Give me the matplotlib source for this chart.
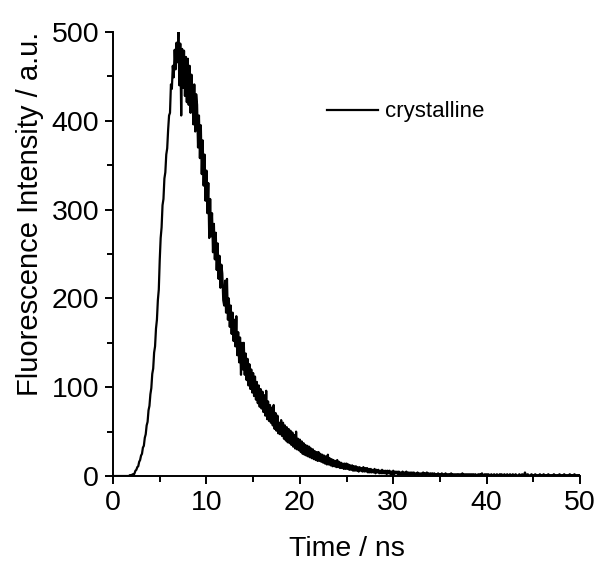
import numpy as np
import matplotlib
matplotlib.use('Agg')
import matplotlib.pyplot as plt

# time axis of the decay trace: 0 to 50 ns sampled every 0.1 ns
t_start, t_stop, t_step = 0.0, 50.0, 0.1

# intensity values, one row per nanosecond
intensity = [
    0, 0, 0, 0, 0, 0, 0, 0, 0, 0,
    0, 0, 0, 0, 0, 0, 0, 0, 1, 0,
    1, 2, 1, 3, 6, 7, 10, 11, 16, 18,
    23, 25, 32, 34, 43, 47, 57, 61, 74, 79,
    92, 99, 115, 121, 139, 146, 166, 176, 198, 210,
    243, 268, 280, 305, 312, 335, 342, 362, 369, 390,
    406, 409, 441, 436, 462, 449, 480, 458, 488, 466,
    500, 440, 487, 406, 481, 437, 479, 428, 472, 421,
    470, 418, 462, 409, 452, 431, 396, 441, 388, 430,
    418, 370, 406, 358, 395, 340, 378, 327, 362, 310,
    344, 296, 330, 268, 312, 270, 296, 252, 284, 244,
    274, 232, 262, 222, 248, 212, 238, 228, 198, 192,
    220, 184, 222, 176, 200, 168, 192, 160, 184, 152,
    176, 146, 180, 136, 162, 128, 156, 114, 150, 120,
    150, 114, 138, 108, 132, 102, 126, 98, 120, 94,
    116, 90, 112, 86, 106, 82, 102, 78, 98, 76,
    95, 72, 91, 68, 96, 64, 84, 62, 80, 60,
    77, 57, 80, 53, 71, 51, 68, 48, 60, 47,
    63, 45, 60, 42, 57, 40, 55, 38, 53, 37,
    51, 35, 49, 33, 46, 31, 50, 30, 42, 29,
    41, 27, 39, 25, 37, 24, 35, 23, 34, 22,
    33, 21, 31, 20, 30, 19, 28, 18, 27, 17,
    27, 17, 25, 16, 24, 15, 23, 14, 22, 13,
    24, 13, 20, 12, 19, 11, 18, 11, 17, 10,
    18, 10, 16, 9, 15, 9, 14, 8, 14, 8,
    14, 8, 13, 7, 12, 7, 12, 6, 11, 6,
    11, 6, 10, 5, 10, 6, 9, 5, 10, 5,
    9, 5, 9, 4, 8, 4, 8, 4, 7, 4,
    8, 3, 7, 4, 7, 3, 6, 3, 7, 3,
    6, 3, 6, 2, 6, 3, 6, 2, 5, 2,
    6, 2, 5, 3, 5, 2, 5, 2, 4, 2,
    5, 2, 4, 2, 5, 2, 4, 1, 4, 2,
    4, 2, 4, 1, 3, 2, 4, 1, 3, 2,
    3, 1, 4, 2, 3, 1, 4, 2, 3, 1,
    3, 2, 3, 1, 3, 1, 2, 1, 3, 2,
    2, 1, 3, 1, 2, 1, 3, 1, 2, 2,
    2, 1, 3, 1, 2, 1, 2, 1, 2, 2,
    2, 1, 2, 1, 3, 1, 2, 1, 2, 1,
    2, 1, 2, 1, 2, 1, 2, 0, 2, 1,
    1, 2, 1, 2, 1, 3, 1, 1, 2, 1,
    2, 1, 2, 1, 1, 2, 1, 1, 2, 1,
    1, 2, 1, 1, 2, 1, 2, 1, 1, 2,
    1, 1, 2, 1, 1, 2, 1, 1, 2, 1,
    1, 2, 1, 0, 1, 2, 1, 1, 2, 1,
    1, 4, 1, 1, 2, 1, 0, 1, 2, 1,
    1, 1, 2, 1, 0, 1, 1, 2, 1, 1,
    1, 2, 1, 1, 0, 1, 2, 1, 1, 0,
    1, 1, 2, 1, 0, 1, 1, 1, 2, 1,
    1, 0, 1, 2, 1, 1, 0, 1, 1, 2,
    1, 1, 0, 1, 2, 1, 1, 0, 1, 1,
    1,
]

series_label = 'crystalline'
x_label = 'Time / ns'
y_label = 'Fluorescence Intensity / a.u.'
x_ticks = [0, 10, 20, 30, 40, 50]
y_ticks = [0, 100, 200, 300, 400, 500]


def main():
    time_ns = np.linspace(t_start, t_stop, len(intensity))

    plt.rcParams['font.family'] = ['Liberation Sans', 'DejaVu Sans']
    fig = plt.figure(figsize=(5.98, 5.62), dpi=100)
    ax = fig.add_axes([0.189, 0.153, 0.781, 0.790])

    ax.plot(time_ns, intensity, color='black', linewidth=1.6, label=series_label)

    ax.set_xlim(0, 50)
    ax.set_ylim(0, 500)
    ax.set_xticks(x_ticks)
    ax.set_yticks(y_ticks)
    ax.set_xticks([5, 15, 25, 35, 45], minor=True)
    ax.set_yticks([50, 150, 250, 350, 450], minor=True)

    ax.spines['top'].set_visible(False)
    ax.spines['right'].set_visible(False)
    for side in ['left', 'bottom']:
        ax.spines[side].set_linewidth(1.4)

    ax.tick_params(which='major', direction='out', length=6, width=1.4,
                   labelsize=20.5, pad=4)
    ax.tick_params(which='minor', direction='out', length=4, width=1.4)

    ax.set_xlabel(x_label, fontsize=20.5)
    ax.set_ylabel(y_label, fontsize=21)
    ax.xaxis.set_label_coords(0.5, -0.135)
    ax.yaxis.set_label_coords(-0.148, 0.59)

    ax.legend(loc='center left', bbox_to_anchor=(0.458, 0.82), frameon=False,
              fontsize=16, handlelength=2.3, handletextpad=0.3,
              borderpad=0, borderaxespad=0)

    fig.savefig('out.png', dpi=100)


if __name__ == '__main__':
    main()
